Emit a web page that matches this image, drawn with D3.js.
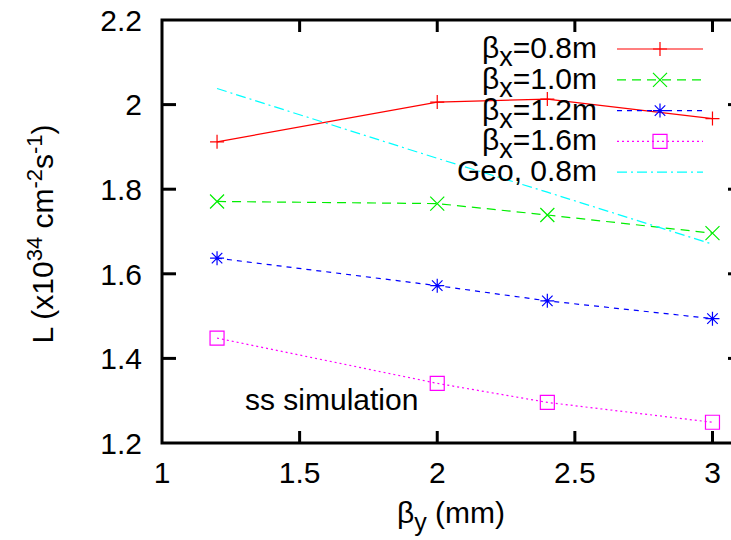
<!DOCTYPE html>
<html>
<head>
<meta charset="utf-8">
<script src="https://cdn.jsdelivr.net/npm/d3@7"></script>
<style>
  body { margin: 0; background: #fff; }
  svg { font-family: "Liberation Sans", Arial, sans-serif; }
</style>
</head>
<body>
<svg id="chart" width="731" height="540"></svg>
<script>
// beta_y values (mm) where the simulation was run
const betaY = [1.2, 2.0, 2.4, 3.0];

// luminosity in units of 1e34 cm^-2 s^-1
const lumi08 = [1.912, 2.006, 2.013, 1.967];
const lumi10 = [1.771, 1.766, 1.739, 1.696];
const lumi12 = [1.637, 1.572, 1.536, 1.494];
const lumi16 = [1.448, 1.341, 1.296, 1.249];
const geo08 = [2.038, 1.873, 1.793, 1.670];

const xTicks = [1, 1.5, 2, 2.5, 3];
const yTicks = [1.2, 1.4, 1.6, 1.8, 2.0, 2.2];

const series = [
    { sub: "x", label: "=0.8m", values: lumi08, color: "#ff0000", dash: null, marker: "plus" },
    { sub: "x", label: "=1.0m", values: lumi10, color: "#00ee00", dash: "9,6", marker: "cross" },
    { sub: "x", label: "=1.2m", values: lumi12, color: "#0000ff", dash: "5,5", marker: "star" },
    { sub: "x", label: "=1.6m", values: lumi16, color: "#ff00ff", dash: "2,3", marker: "square" },
    { sub: null, label: "Geo, 0.8m", values: geo08, color: "#00ffff", dash: "10,4,2,4", marker: null }
];

const svg = d3.select("#chart");
const margin = { left: 162, top: 20, right: 740, bottom: 443 };

const x = d3.scaleLinear().domain([1, 3.1]).range([margin.left, margin.right]);
const y = d3.scaleLinear().domain([1.2, 2.2]).range([margin.bottom, margin.top]);

const fontSize = 30;

// markers drawn as stroked paths, like gnuplot points
function markerPath(type) {
    const s = 7;
    if (type === "plus") return `M${-s},0H${s}M0,${-s}V${s}`;
    if (type === "cross") return `M${-s},${-s}L${s},${s}M${-s},${s}L${s},${-s}`;
    if (type === "star") return `M${-s},0H${s}M0,${-s}V${s}M${-s*0.75},${-s*0.75}L${s*0.75},${s*0.75}M${-s*0.75},${s*0.75}L${s*0.75},${-s*0.75}`;
    if (type === "square") return `M${-s},${-s}H${s}V${s}H${-s}Z`;
    return "";
}

// frame
const frame = svg.append("g").attr("stroke", "#000").attr("stroke-width", 3).attr("fill", "none");
frame.append("rect")
    .attr("x", margin.left).attr("y", margin.top)
    .attr("width", margin.right - margin.left)
    .attr("height", margin.bottom - margin.top);

// ticks (inward, on all four sides)
yTicks.slice(1, -1).forEach(t => {
    frame.append("line").attr("x1", margin.left).attr("x2", margin.left + 14).attr("y1", y(t)).attr("y2", y(t));
    frame.append("line").attr("x1", margin.right).attr("x2", margin.right - 12).attr("y1", y(t)).attr("y2", y(t));
});
xTicks.slice(1).forEach(t => {
    frame.append("line").attr("x1", x(t)).attr("x2", x(t)).attr("y1", margin.bottom).attr("y2", margin.bottom - 12);
    frame.append("line").attr("x1", x(t)).attr("x2", x(t)).attr("y1", margin.top).attr("y2", margin.top + 12);
});

// tick labels
svg.append("g").selectAll("text")
    .data(yTicks)
    .join("text")
    .attr("x", 142)
    .attr("y", d => y(d))
    .attr("dy", "0.36em")
    .attr("text-anchor", "end")
    .attr("font-size", fontSize)
    .text(d => d3.format("~g")(d));

svg.append("g").selectAll("text")
    .data(xTicks)
    .join("text")
    .attr("x", d => x(d))
    .attr("y", 483)
    .attr("text-anchor", "middle")
    .attr("font-size", fontSize)
    .text(d => d);

// axis titles
const xLabel = svg.append("text")
    .attr("x", 451).attr("y", 523)
    .attr("text-anchor", "middle")
    .attr("font-size", fontSize);
xLabel.append("tspan").text("β");
xLabel.append("tspan").attr("dy", 8).attr("font-size", 25).text("y");
xLabel.append("tspan").attr("dy", -8).text(" (mm)");

const yLabel = svg.append("text")
    .attr("transform", "translate(53,234) rotate(-90)")
    .attr("text-anchor", "middle")
    .attr("font-size", fontSize);
yLabel.append("tspan").text("L (x10");
yLabel.append("tspan").attr("dy", -11).attr("font-size", 22).text("34");
yLabel.append("tspan").attr("dy", 11).text(" cm");
yLabel.append("tspan").attr("dy", -11).attr("font-size", 22).text("-2");
yLabel.append("tspan").attr("dy", 11).text("s");
yLabel.append("tspan").attr("dy", -11).attr("font-size", 22).text("-1");
yLabel.append("tspan").attr("dy", 11).text(")");

svg.append("text")
    .attr("x", 245).attr("y", 410)
    .attr("font-size", fontSize)
    .text("ss simulation");

// data lines
const line = d3.line().x(d => x(d[0])).y(d => y(d[1]));

series.forEach(s => {
    const pts = betaY.map((b, i) => [b, s.values[i]]);
    svg.append("path")
        .datum(pts)
        .attr("d", line)
        .attr("fill", "none")
        .attr("stroke", s.color)
        .attr("stroke-width", 1.2)
        .attr("stroke-dasharray", s.dash);
    if (s.marker) {
        svg.append("g").selectAll("path")
            .data(pts)
            .join("path")
            .attr("transform", d => `translate(${x(d[0])},${y(d[1])})`)
            .attr("d", markerPath(s.marker))
            .attr("fill", "none")
            .attr("stroke", s.color)
            .attr("stroke-width", 1.2);
    }
});

// legend
const legend = svg.append("g");
series.forEach((s, i) => {
    const cy = 49 + i * 30.8;
    const t = legend.append("text")
        .attr("x", 597).attr("y", cy + 9)
        .attr("text-anchor", "end")
        .attr("font-size", fontSize);
    if (s.sub) {
        t.append("tspan").text("β");
        t.append("tspan").attr("dy", 8).attr("font-size", 27).text(s.sub);
        t.append("tspan").attr("dy", -8).text(s.label);
    } else {
        t.text(s.label);
    }
    legend.append("line")
        .attr("x1", 617).attr("x2", 703)
        .attr("y1", cy).attr("y2", cy)
        .attr("stroke", s.color)
        .attr("stroke-width", 1.2)
        .attr("stroke-dasharray", s.dash);
    if (s.marker) {
        legend.append("path")
            .attr("transform", `translate(660,${cy})`)
            .attr("d", markerPath(s.marker))
            .attr("fill", "none")
            .attr("stroke", s.color)
            .attr("stroke-width", 1.2);
    }
});
</script>
</body>
</html>
